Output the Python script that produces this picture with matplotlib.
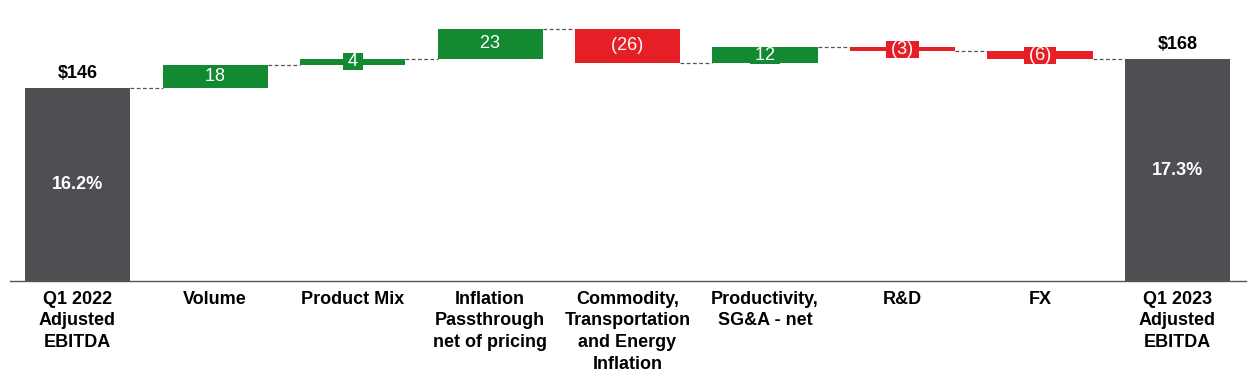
import matplotlib.pyplot as plt
import numpy as np

plt.rcParams['font.family'] = ['Liberation Sans', 'DejaVu Sans']

categories = ["Q1 2022\nAdjusted\nEBITDA", "Volume", "Product Mix",
              "Inflation\nPassthrough\nnet of pricing",
              "Commodity,\nTransportation\nand Energy\nInflation",
              "Productivity,\nSG&A - net", "R&D", "FX",
              "Q1 2023\nAdjusted\nEBITDA"]
start_value = 146
end_value = 168
deltas = [18, 4, 23, -26, 12, -3, -6]
margins = ["16.2%", "17.3%"]

GRAY = "#4d4f52"
GREEN = "#138a32"
RED = "#e61f27"

fig = plt.figure(figsize=(12.56, 3.74), dpi=100)
ax = fig.add_axes([0, 0.2487, 1, 0.7513])
ax.set_xlim(-0.564, 8.571)
ax.set_ylim(0, 213)

x = np.arange(len(categories))
width = 0.764

# totals
ax.bar([x[0], x[-1]], [start_value, end_value], width=width, color=GRAY)
for xi, v, m in zip([x[0], x[-1]], [start_value, end_value], margins):
    ax.text(xi, v + 4.5, f"${v}", ha="center", va="bottom", fontsize=13,
            weight="bold", color="black")
    ax.text(xi, v / 2, m, ha="center", va="center", fontsize=13,
            weight="bold", color="white")

# deltas
running = start_value
levels = [start_value]
for i, d in enumerate(deltas):
    xi = x[i + 1]
    color = GREEN if d > 0 else RED
    bottom = running if d > 0 else running + d
    ax.bar(xi, abs(d), bottom=bottom, width=width, color=color)
    txt = str(d) if d > 0 else f"({-d})"
    ax.text(xi, bottom + abs(d) / 2 + 0.3, f" {txt} ", ha="center", va="center",
            fontsize=13, color="white",
            bbox=dict(boxstyle="square,pad=0.0", facecolor=color,
                      edgecolor="none"))
    running += d
    levels.append(running)

# connectors
for i, lvl in enumerate(levels):
    ax.plot([x[i] + width / 2, x[i + 1] - width / 2], [lvl, lvl],
            color="#555555", lw=0.9, linestyle=(0, (3, 2)))

for s in ["top", "right", "left"]:
    ax.spines[s].set_visible(False)
ax.spines["bottom"].set_color("#555555")
ax.spines["bottom"].set_linewidth(1.0)
ax.spines["bottom"].set_bounds(-0.49, 8.5)
ax.set_yticks([])
ax.set_xticks(x)
ax.set_xticklabels(categories, fontsize=13, weight="bold", linespacing=1.36)
ax.tick_params(axis="x", length=0, pad=7)

fig.savefig("out.png", dpi=100)
